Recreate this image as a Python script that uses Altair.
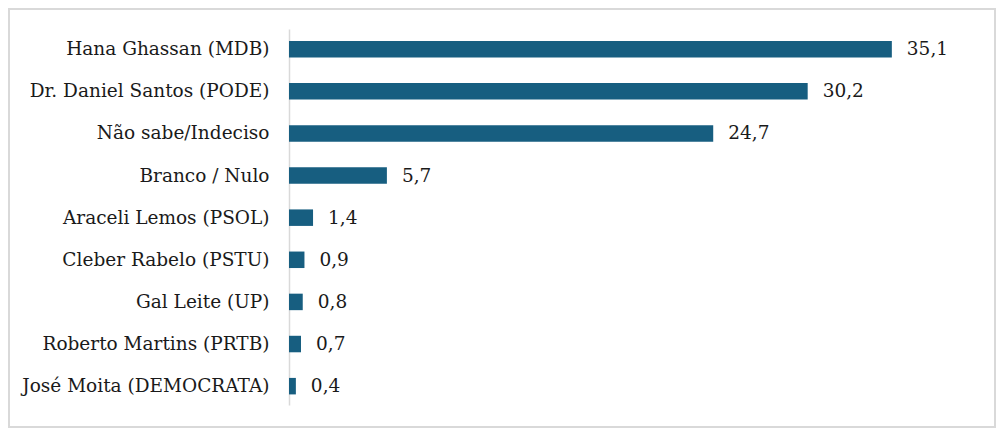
import altair as alt
import pandas as pd

candidates = [
    "Hana Ghassan (MDB)",
    "Dr. Daniel Santos (PODE)",
    "Não sabe/Indeciso",
    "Branco / Nulo",
    "Araceli Lemos (PSOL)",
    "Cleber Rabelo (PSTU)",
    "Gal Leite (UP)",
    "Roberto Martins (PRTB)",
    "José Moita (DEMOCRATA)",
]
values = [35.1, 30.2, 24.7, 5.7, 1.4, 0.9, 0.8, 0.7, 0.4]

df = pd.DataFrame({
    "cand": candidates,
    "val": values,
    "label": [f"{v:.1f}".replace(".", ",") for v in values],
})

FONT = "DejaVu Serif"
BAR = "#175e80"

base = alt.Chart(df).encode(
    y=alt.Y("cand:N", sort=candidates, title=None,
            scale=alt.Scale(paddingInner=0.6, paddingOuter=0.263, align=0.53),
            axis=alt.Axis(ticks=False, domainColor="#d9d9d9", domainWidth=1.5,
                          labelFont=FONT, labelFontSize=18.5, labelColor="#1a1a1a",
                          labelPadding=20, labelLimit=400)),
    x=alt.X("val:Q", title=None, scale=alt.Scale(domain=[0, 40]), axis=None),
)

bars = base.mark_bar(color=BAR, size=16.5)
text = base.mark_text(align="left", baseline="middle", dx=15, font=FONT,
                      fontSize=18.5, color="#1a1a1a").encode(text="label:N")

border = alt.Chart(pd.DataFrame({"a": [0]})).mark_rect(
    fill=None, stroke="#d9d9d9", strokeWidth=2
).encode(x=alt.value(-280), x2=alt.value(706), y=alt.value(-20), y2=alt.value(398))

chart = alt.layer(bars, text, border).properties(
    width=687, height=376,
    padding={"left": 281, "top": 21, "right": 20, "bottom": 23},
    autosize=alt.AutoSizeParams(type="none"),
).configure_view(stroke=None)

chart.save("out.html", embed_options={"renderer": "svg", "actions": False})
